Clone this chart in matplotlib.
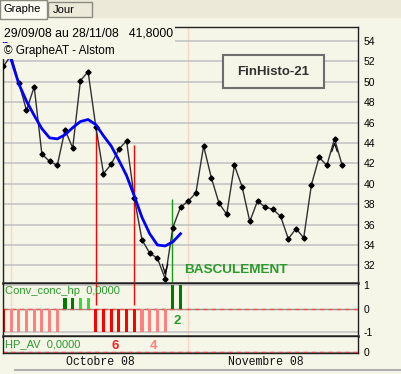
import matplotlib.pyplot as plt
from matplotlib.patches import Rectangle

BG = '#f6f6e8'
GRID = '#c4c4c4'
PALE = '#f8d6c6'
RED = '#ff0000'
PINK = '#ff8080'
DKGREEN = '#007a00'
LTGREEN = '#33dd33'
TXTGREEN = '#2a9a2a'

# daily closes, 29/09/08 -> 28/11/08
price = [51.5, 52.6, 49.9, 47.2, 49.5, 42.9, 42.2, 41.8, 45.3, 43.5,
         50.1, 51.0, 45.6, 41.0, 41.9, 43.4, 44.2, 38.6, 34.5, 33.2,
         32.7, 30.7, 35.7, 37.7, 38.3, 39.1, 43.7, 40.6, 38.1, 37.0,
         41.8, 39.7, 36.3, 38.3, 37.7, 37.5, 36.8, 34.6, 35.6, 34.7,
         39.9, 42.6, 41.8, 44.4, 41.8]
# blue smoothed curve
ma = [54.7, 52.2, 49.8, 48.1, 46.7, 45.4, 44.5, 44.4, 44.8, 45.5,
      46.1, 46.3, 45.8, 44.7, 43.7, 42.3, 40.8, 38.8, 36.7, 35.1,
      34.0, 33.9, 34.3, 35.1]
# Conv_conc_hp histogram
conv_val = [-1, -1, -1, -1, -1, -1, -1, -1, 0.45, 0.45, 0.45, 0.45,
            -1, -1, -1, -1, -1, -1, -1, -1, -1, -1, 1, 1]
conv_col = [RED, PINK, PINK, PINK, PINK, PINK, PINK, PINK,
            DKGREEN, DKGREEN, LTGREEN, LTGREEN,
            RED, RED, RED, RED, RED, RED, PINK, PINK, PINK, PINK,
            DKGREEN, DKGREEN]
# signal lines
red_sig_x = [12, 17]
red_sig_top = [45.4, 43.8]
green_sig_x = [21.85]
green_sig_top = [38.5]
month_sep = [1, 24]
month_labels = ['Octobre 08', 'Novembre 08']
month_pos = [12.6, 34.1]
main_ticks = [32, 34, 36, 38, 40, 42, 44, 46, 48, 50, 52, 54]

W, H = 401, 374
def fx(px):
    return px / W
def fy(py):
    return 1 - py / H

plt.rcParams['font.family'] = ['Liberation Sans', 'DejaVu Sans']
fig = plt.figure(figsize=(W / 100, H / 100), dpi=100, facecolor=BG)

# tab bar
fig.patches.append(Rectangle((0, fy(18)), 1, 18 / H, transform=fig.transFigure,
                             facecolor='#ece9d8', edgecolor='none', zorder=0))
fig.patches.append(Rectangle((fx(0), fy(19)), 47 / W, 19 / H, transform=fig.transFigure,
                             facecolor='#fbfbf4', edgecolor='#8a8a80', lw=1, zorder=1))
fig.patches.append(Rectangle((fx(48), fy(17)), 44 / W, 15 / H, transform=fig.transFigure,
                             facecolor='#ece9d8', edgecolor='#8a8a80', lw=1, zorder=1))
fig.text(fx(3), fy(9), 'Graphe', fontsize=8, va='center', ha='left')
fig.text(fx(53), fy(10), 'Jour', fontsize=8, va='center', ha='left')

x0 = fx(3)
pw = 355 / W
ax1 = fig.add_axes([x0, fy(283), pw, 256 / H])
ax2 = fig.add_axes([x0, fy(336), pw, 53 / H])
ax3 = fig.add_axes([x0, fy(353), pw, 17 / H])

xmin, xmax = -0.05, 46.05
for ax in (ax1, ax2, ax3):
    ax.set_facecolor(BG)
    ax.set_xlim(xmin, xmax)
    ax.set_xticks([])
    ax.yaxis.tick_right()
    ax.tick_params(axis='y', length=0, pad=4, labelsize=7.5)
    for s in ax.spines.values():
        s.set_color('#202020')
        s.set_linewidth(1)
    for m in month_sep:
        ax.axvline(m, color=PALE, lw=1, zorder=0.5)

ax1.spines['bottom'].set_color('#505050')
ax1.spines['bottom'].set_linewidth(2)
ax2.spines['bottom'].set_color('#505050')
ax2.spines['bottom'].set_linewidth(2)

# main panel
ax1.set_ylim(30.27, 55.37)
ax1.set_yticks(main_ticks)
for t in main_ticks:
    ax1.axhline(t, color=GRID, lw=1.2, zorder=0.6)
xs = list(range(len(price)))
ax1.plot(xs, price, color='#303030', lw=1, marker='D', ms=2.6,
         mfc='black', mec='black', zorder=3)
ax1.plot(range(len(ma)), ma, color='#0000ff', lw=2, zorder=4)
ax1.vlines(red_sig_x, 30.27, red_sig_top, color=RED, lw=1, zorder=2)
ax1.vlines(green_sig_x, 30.27, green_sig_top, color='#1a9a1a', lw=1, zorder=2)
lo = price.index(min(price))
hi = len(price) - 2
ax1.annotate('', xy=(lo, price[lo]), xytext=(lo, price[lo] + 1.2),
             arrowprops=dict(arrowstyle='->,head_length=0.7,head_width=0.2',
                             color='black', lw=0.8), zorder=5)
ax1.annotate('', xy=(hi, price[hi]), xytext=(hi, price[hi] - 0.9),
             arrowprops=dict(arrowstyle='->,head_length=0.6,head_width=0.2',
                             color='black', lw=0.8), zorder=5)

# Conv_conc_hp panel
ax2.set_ylim(-1.17, 1.085)
ax2.set_yticks([1, 0, -1])
ax2.set_yticklabels(['1', '0', '-1'])
for t in (1, -1):
    ax2.axhline(t, color=GRID, lw=1.2, zorder=0.6)
ax2.axhline(0, color='#909090', lw=1, zorder=0.6)
ax2.axhline(0, color='#ff5050', lw=1, ls=(0, (3, 3)), zorder=0.7)
ax2.bar(range(len(conv_val)), conv_val, width=0.4, color=conv_col, zorder=2)
ax2.vlines(red_sig_x, 0.15, 1.085, color=RED, lw=1, zorder=3)

# HP_AV panel
ax3.set_ylim(-0.06, 1)
ax3.set_yticks([0])
ax3.axhline(0, color='#909090', lw=1, zorder=0.6)
ax3.axhline(0, color='#ff5050', lw=1, ls=(0, (3, 3)), zorder=0.7)

# overlay texts
fig.text(fx(4), fy(34), '29/09/08 au 28/11/08   41,8000', fontsize=8.8,
         va='center', ha='left',
         bbox=dict(facecolor=BG, edgecolor='none', pad=1.5))
fig.text(fx(4), fy(51), '\u00a9 GrapheAT - Alstom', fontsize=8.5,
         va='center', ha='left',
         bbox=dict(facecolor=BG, edgecolor='none', pad=1.5))
fig.patches.append(Rectangle((fx(223), fy(88)), 101 / W, 33 / H, transform=fig.transFigure,
                             facecolor=BG, edgecolor='#6e6e6e', lw=1.5, zorder=5))
fig.text(fx(273), fy(72), 'FinHisto-21', fontsize=9.5, fontweight='bold',
         color='#303030', ha='center', va='center', zorder=6)
fig.text(fx(184), fy(270), 'BASCULEMENT', fontsize=9.7, fontweight='bold',
         color=TXTGREEN, ha='left', va='center')
fig.text(fx(5), fy(291), 'Conv_conc_hp  0,0000', fontsize=8, color=TXTGREEN,
         ha='left', va='center')
fig.text(fx(5), fy(344), 'HP_AV  0,0000', fontsize=8, color=TXTGREEN,
         ha='left', va='center')
fig.text(fx(177), fy(321), '2', fontsize=9.5, fontweight='bold', color=TXTGREEN,
         ha='center', va='center')
fig.text(fx(115), fy(346), '6', fontsize=9.5, fontweight='bold', color='#ff2020',
         ha='center', va='center')
fig.text(fx(153), fy(346), '4', fontsize=9.5, fontweight='bold', color=PINK,
         ha='center', va='center')

for lab, pos in zip(month_labels, month_pos):
    ax3.text(pos, -0.55, lab, transform=ax3.get_xaxis_transform(),
             fontsize=8.3, family='Liberation Mono',
             color='#101010', ha='center', va='center')

fig.add_artist(plt.Line2D([fx(15), 1], [fy(370), fy(370)], color='#b0b0b0', lw=1.5))

fig.savefig('out.png', dpi=100, facecolor=BG)
